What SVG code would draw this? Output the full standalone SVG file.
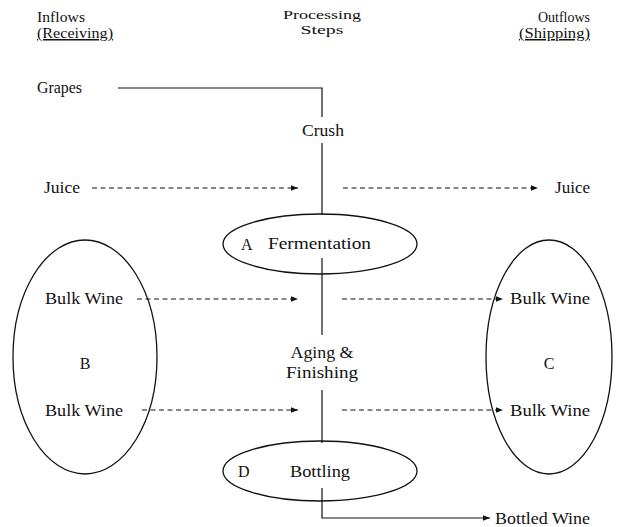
<svg xmlns="http://www.w3.org/2000/svg" width="622" height="527" viewBox="0 0 622 527" font-family="'Liberation Serif', 'Times New Roman', serif">
<defs>
<style>
text{font-family:"Liberation Serif","Times New Roman",serif;font-size:16px;fill:#111}
.h{font-size:15px}
.p{font-size:13.5px}
.m{text-anchor:middle}
.e{text-anchor:end}
.ln{stroke:#111;stroke-width:1.2;fill:none}
.d{stroke:#111;stroke-width:1.2;fill:none;stroke-dasharray:5,3.5}
.ov{stroke:#111;stroke-width:1.3;fill:none}
</style>
<marker id="ah" viewBox="0 0 10 10" refX="10" refY="5" markerWidth="8" markerHeight="7" orient="auto" markerUnits="userSpaceOnUse">
<path d="M0,1 L10,5 L0,9 Z" fill="#111"/>
</marker>
</defs>
<rect width="622" height="527" fill="#fff"/>
<g id="headers">
<text class="h" x="37" y="22" textLength="48" lengthAdjust="spacingAndGlyphs">Inflows</text>
<text class="h" x="37" y="38" text-decoration="underline" textLength="76" lengthAdjust="spacingAndGlyphs">(Receiving)</text>
<text class="p m" x="322" y="19" textLength="78" lengthAdjust="spacingAndGlyphs">Processing</text>
<text class="p m" x="322" y="34" textLength="43" lengthAdjust="spacingAndGlyphs">Steps</text>
<text class="h e" x="590" y="22" textLength="52" lengthAdjust="spacingAndGlyphs">Outflows</text>
<text class="h e" x="590" y="38" text-decoration="underline" textLength="71" lengthAdjust="spacingAndGlyphs">(Shipping)</text>
</g>
<g id="connectors">
<path class="ln" d="M118,88 H322 V117"/>
<path class="ln" d="M322,143 V215"/>
<path class="ln" d="M322,258 V335"/>
<path class="ln" d="M322,390 V443"/>
<path class="ln" d="M322,488 V518 H490" marker-end="url(#ah)"/>
<path class="d" d="M92,188 H298" marker-end="url(#ah)"/>
<path class="d" d="M343,188 H538" marker-end="url(#ah)"/>
<path class="d" d="M137,299 H298" marker-end="url(#ah)"/>
<path class="d" d="M342,299 H503" marker-end="url(#ah)"/>
<path class="d" d="M142,410 H298" marker-end="url(#ah)"/>
<path class="d" d="M342,410 H503" marker-end="url(#ah)"/>
</g>
<g id="grapes"><text x="37" y="93" textLength="45" lengthAdjust="spacingAndGlyphs">Grapes</text></g>
<g id="crush"><text x="323" y="136" class="m" textLength="42" lengthAdjust="spacingAndGlyphs">Crush</text></g>
<g id="juice-in"><text x="44" y="193" textLength="36" lengthAdjust="spacingAndGlyphs">Juice</text></g>
<g id="juice-out"><text x="555" y="193" textLength="35" lengthAdjust="spacingAndGlyphs">Juice</text></g>
<g id="fermentation">
<ellipse class="ov" cx="320" cy="244" rx="97" ry="30"/>
<text x="241" y="250">A</text>
<text x="268" y="249" textLength="103" lengthAdjust="spacingAndGlyphs">Fermentation</text>
</g>
<g id="group-b">
<ellipse class="ov" cx="85" cy="357" rx="72" ry="117"/>
<text x="45" y="304" textLength="78" lengthAdjust="spacingAndGlyphs">Bulk Wine</text>
<text x="85" y="369" class="m">B</text>
<text x="45" y="416" textLength="78" lengthAdjust="spacingAndGlyphs">Bulk Wine</text>
</g>
<g id="aging">
<text x="322" y="358" class="m" textLength="63" lengthAdjust="spacingAndGlyphs">Aging &amp;</text>
<text x="322" y="378" class="m" textLength="72" lengthAdjust="spacingAndGlyphs">Finishing</text>
</g>
<g id="group-c">
<ellipse class="ov" cx="549" cy="357" rx="63" ry="117"/>
<text x="510" y="304" textLength="80" lengthAdjust="spacingAndGlyphs">Bulk Wine</text>
<text x="549" y="369" class="m">C</text>
<text x="510" y="416" textLength="80" lengthAdjust="spacingAndGlyphs">Bulk Wine</text>
</g>
<g id="bottling">
<ellipse class="ov" cx="320" cy="471" rx="97" ry="30"/>
<text x="238" y="477">D</text>
<text x="290" y="477" textLength="60" lengthAdjust="spacingAndGlyphs">Bottling</text>
</g>
<g id="bottled-wine"><text x="495" y="524" textLength="95" lengthAdjust="spacingAndGlyphs">Bottled Wine</text></g>
</svg>
